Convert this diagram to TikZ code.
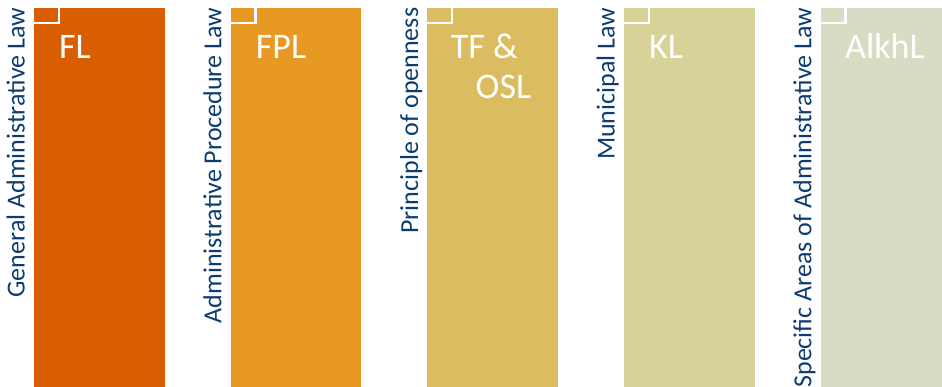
\documentclass[tikz,border=0pt]{standalone}
\usepackage{fontspec}
\setmainfont{Carlito}
\definecolor{cA}{RGB}{217,94,0}
\definecolor{cB}{RGB}{232,153,35}
\definecolor{cC}{RGB}{219,188,96}
\definecolor{cD}{RGB}{215,211,152}
\definecolor{cE}{RGB}{218,219,196}
\definecolor{txtblue}{RGB}{12,60,112}
\tikzset{
  bar/.style={draw=white, line width=0.8pt, inner sep=0pt},
  bracket/.style={draw=white, line width=2.2pt},
  sidelabel/.style={rotate=90, anchor=base east, inner sep=0pt, text=txtblue, font=\fontsize{26}{30}\selectfont},
  barlabel/.style={anchor=base west, inner sep=0pt, text=white, font=\fontsize{36}{40}\selectfont}
}
\begin{document}
\begin{tikzpicture}[x=1pt,y=-1pt]
\useasboundingbox (0,0) rectangle (942,387);
% bars
\fill[cA] (33.3,7) rectangle (165,388);
\draw[white,line width=0.8pt] (33.3,388) -- (33.3,7) -- (165,7) -- (165,388);
\draw[bracket] (33.3,23.2) -- (58.7,23.2) -- (58.7,7);
\node[barlabel] (l1) at (59,58.5) {FL};
\node[sidelabel] (s1) at (24.6,7.5) {General Administrative Law};

\fill[cB] (230,7) rectangle (361.7,388);
\draw[white,line width=0.8pt] (230,388) -- (230,7) -- (361.7,7) -- (361.7,388);
\draw[bracket] (230,23.2) -- (255.4,23.2) -- (255.4,7);
\node[barlabel] (l2) at (255.7,58.5) {FPL};
\node[sidelabel] (s2) at (221.3,7.5) {Administrative Procedure Law};

\fill[cC] (426.7,7) rectangle (558.4,388);
\draw[white,line width=0.8pt] (426.7,388) -- (426.7,7) -- (558.4,7) -- (558.4,388);
\draw[bracket] (426.7,23.2) -- (452.1,23.2) -- (452.1,7);
\node[barlabel] (l3a) at (450.7,58.5) {TF \&};
\node[barlabel] (l3b) at (475.5,98.5) {OSL};
\node[sidelabel] (s3) at (418,7.5) {Principle of openness};

\fill[cD] (623.3,7) rectangle (755,388);
\draw[white,line width=0.8pt] (623.3,388) -- (623.3,7) -- (755,7) -- (755,388);
\draw[bracket] (623.3,23.2) -- (648.7,23.2) -- (648.7,7);
\node[barlabel] (l4) at (649,58.5) {KL};
\node[sidelabel] (s4) at (614.6,7.5) {Municipal Law};

\fill[cE] (820,7) rectangle (943,388);
\draw[white,line width=0.8pt] (820,388) -- (820,7) -- (943,7);
\draw[bracket] (820,23.2) -- (845.4,23.2) -- (845.4,7);
\node[barlabel] (l5) at (845,58.5) {AlkhL};
\node[sidelabel] (s5) at (811.3,7.5) {Specific Areas of Administrative Law};
\end{tikzpicture}
\end{document}
